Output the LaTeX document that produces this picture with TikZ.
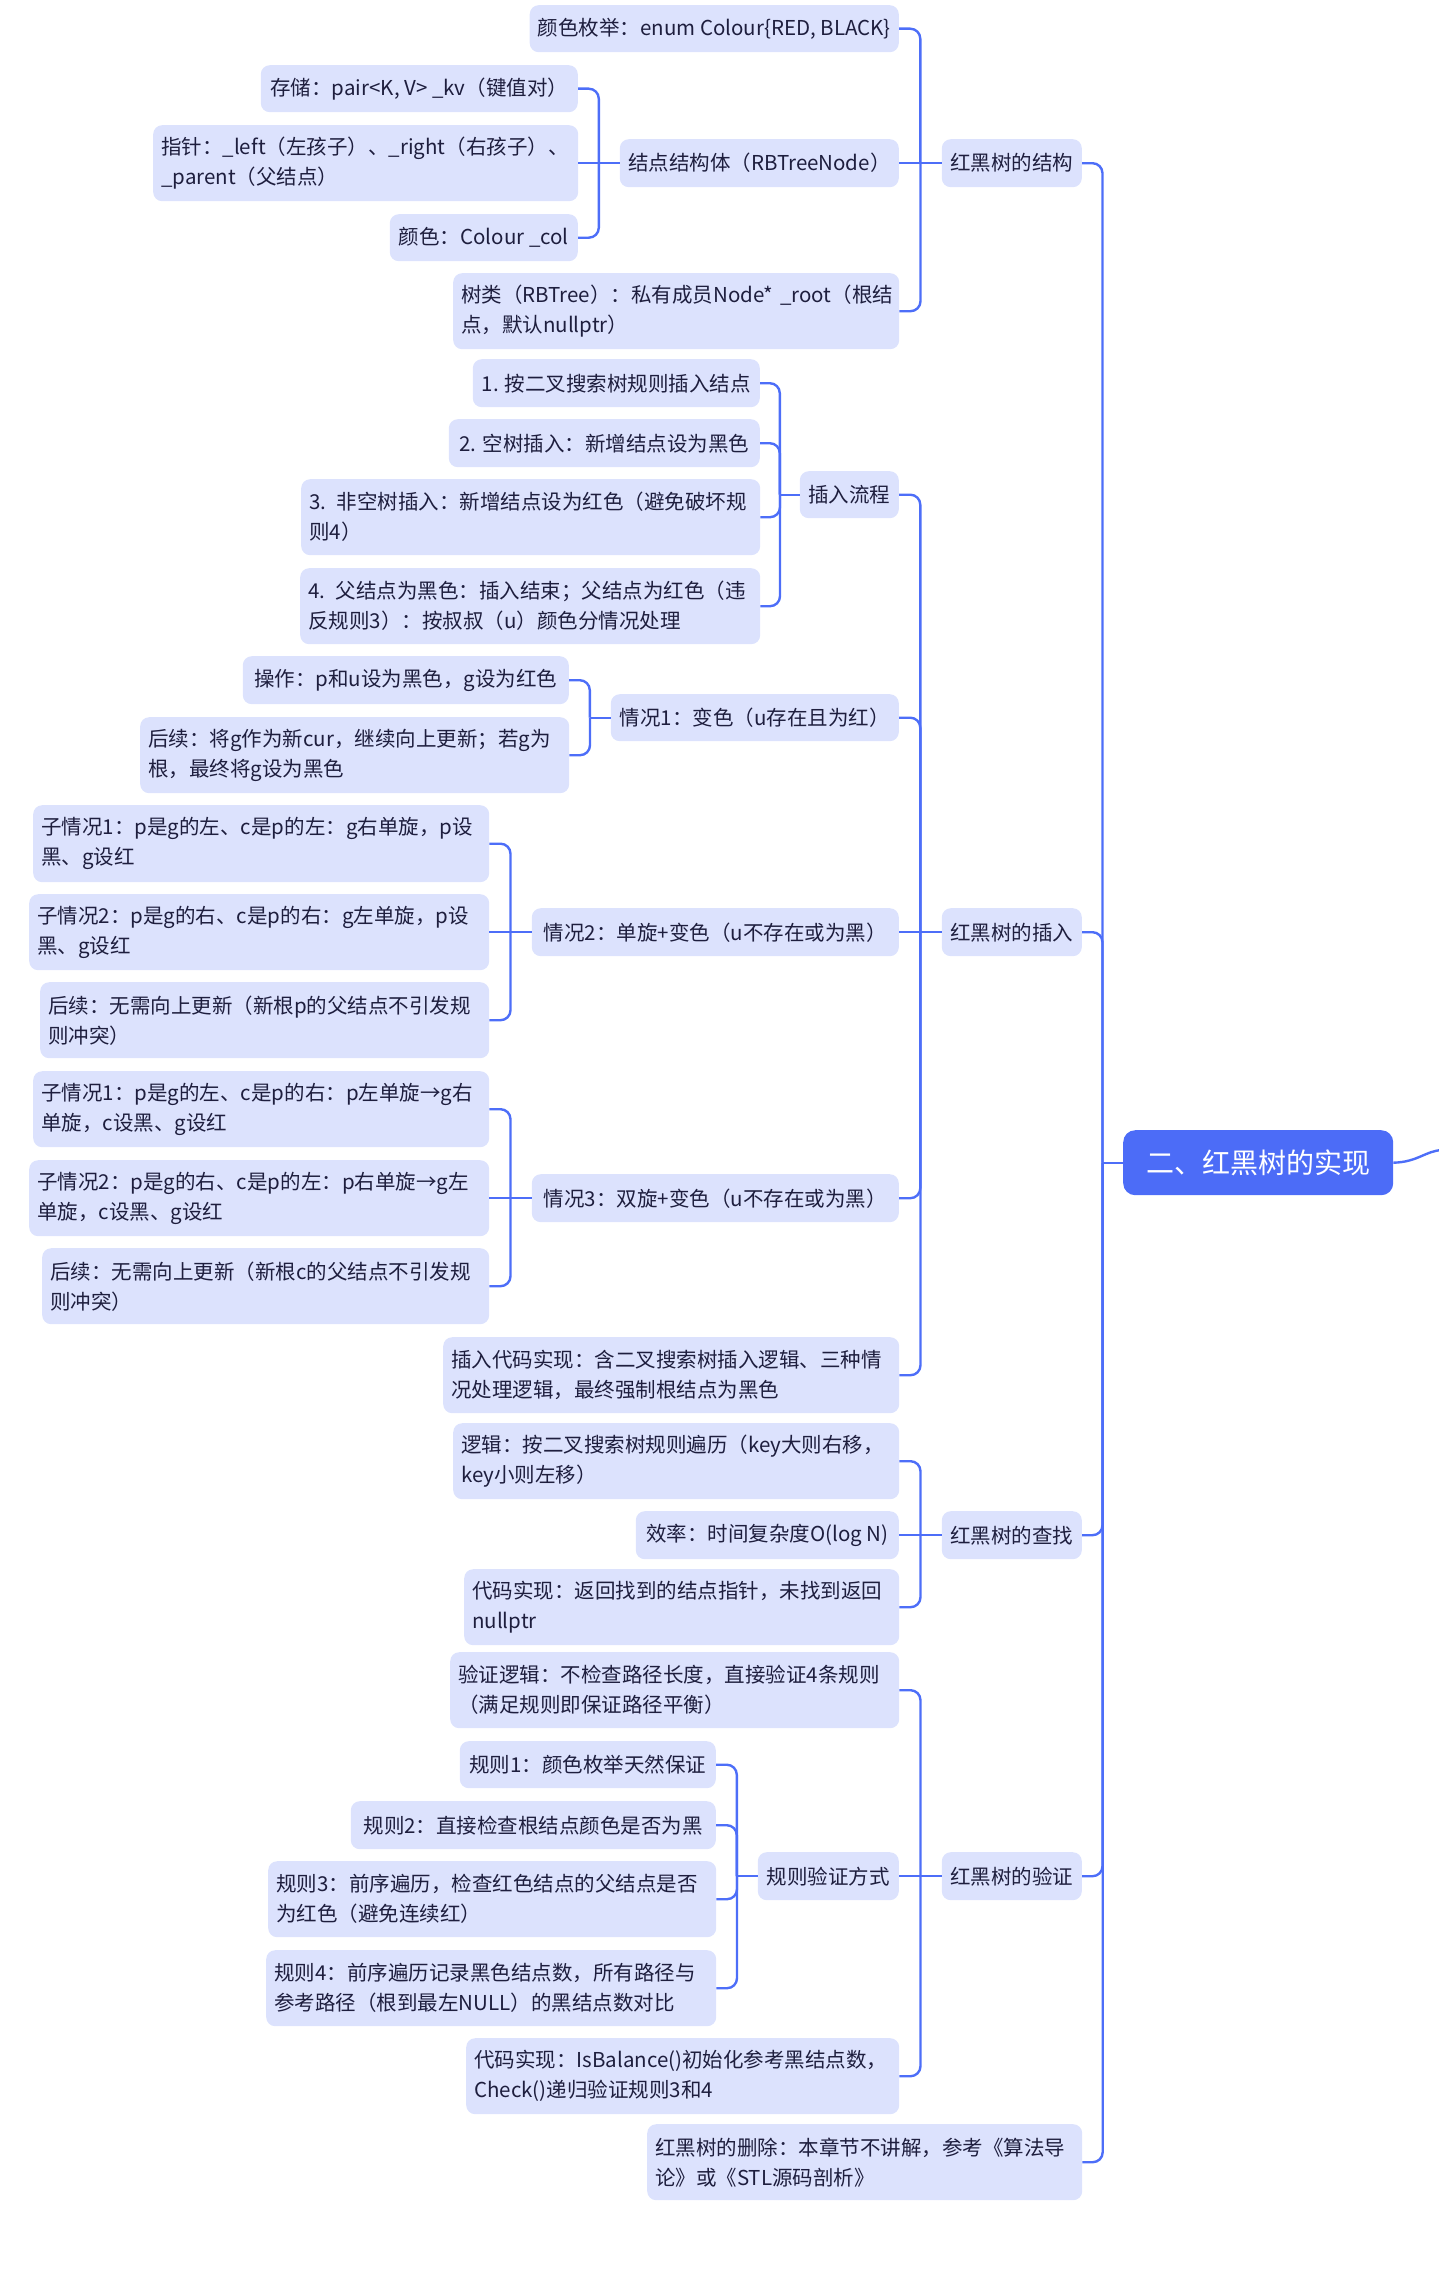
\documentclass[tikz,border=0pt]{standalone}
\usepackage{fontspec}
\setmainfont{Noto Sans CJK SC}
\usetikzlibrary{calc}
\definecolor{boxfill}{RGB}{220,226,253}
\definecolor{linec}{RGB}{77,110,248}
\definecolor{rootfill}{RGB}{76,108,247}
\definecolor{txt}{RGB}{30,30,62}
\tikzset{
  box/.style={fill=boxfill, rounded corners=9pt, text=txt, font=\fontsize{20.5}{30}\selectfont,
    inner xsep=8pt, inner ysep=0pt, align=left},
  rootbox/.style={fill=rootfill, rounded corners=12pt, text=white, font=\fontsize{28}{34}\selectfont,
    inner sep=0pt, anchor=north west, align=center},
  link/.style={draw=linec, line width=2.4pt},
}
\newcommand\bx[6]{%
  \pgfmathsetmacro\bxw{#4-#2}\pgfmathsetmacro\bxh{#5-#3}%
  \node[box, anchor=north east, minimum width=\bxw pt, minimum height=\bxh pt] (#1) at (#4,#3) {#6};}
\newcommand\bxx[6]{%
  \pgfmathsetmacro\bxw{#4-#2-16}\pgfmathsetmacro\bxh{#5-#3}%
  \node[box, anchor=north west, text width=\bxw pt, minimum height=\bxh pt] (#1) at (#2,#3) {#6};}
\newcommand\conn[2]{%
  \path ($(#1.east)!0.5!(#1.east -| #2.west)$) coordinate (busm);
  \draw[link, rounded corners=10pt] (#1.east) -| (busm |- #2.west);
  \draw[link] (busm |- #2.west) -- (#2.west);}
\newcommand\connS[2]{\draw[link] (#1.east) -- (#2.west);}
\begin{document}
\begin{tikzpicture}[x=1pt,y=-1pt]
\useasboundingbox (0,0) rectangle (1438,2296);
% root
\node[rootbox, minimum width=270pt, minimum height=65pt] (root) at (1123,1130) {二、红黑树的实现};
\coordinate (rootout) at (1442,1150);
\draw[link] (root.east) .. controls (1418,1162) and (1425,1151) .. (rootout);
% level 1
\bx{L1a}{942}{139}{1082}{187}{红黑树的结构}
\bx{L1b}{942}{908}{1082}{956}{红黑树的插入}
\bx{L1c}{942}{1511}{1082}{1559}{红黑树的查找}
\bx{L1d}{942}{1852}{1082}{1900}{红黑树的验证}
\bxx{L1e}{647}{2124}{1082}{2200}{红黑树的删除：本章节不讲解，参考《算法导\\论》或《STL源码剖析》}
% structure
\bx{s1}{532}{5}{899}{52}{颜色枚举：enum Colour\{RED, BLACK\}}
\bx{s2}{620}{139}{899}{187}{结点结构体（RBTreeNode）}
\bxx{s3}{453}{273}{899}{349}{树类（RBTree）：私有成员Node*~\_root（根结\\点，默认nullptr）}
\bx{n1}{261}{65}{578}{112}{存储：pair<K, V> \_kv（键值对）}
\bxx{n2}{153}{125}{578}{201}{指针：\_left（左孩子）、\_right（右孩子）、\\\_parent（父结点）}
\bx{n3}{390}{214}{578}{261}{颜色：Colour \_col}
% insert
\bx{i1}{800}{471}{899}{518}{插入流程}
\bx{i2}{611}{694}{899}{741}{情况1：变色（u存在且为红）}
\bx{i3}{532}{908}{899}{956}{情况2：单旋+变色（u不存在或为黑）}
\bx{i4}{532}{1174}{899}{1222}{情况3：双旋+变色（u不存在或为黑）}
\bxx{i5}{443}{1337}{899}{1413}{插入代码实现：含二叉搜索树插入逻辑、三种情\\况处理逻辑，最终强制根结点为黑色}
\bx{f1}{473}{359}{760}{407}{1. 按二叉搜索树规则插入结点}
\bx{f2}{449}{419}{760}{467}{2. 空树插入：新增结点设为黑色}
\bxx{f3}{301}{479}{760}{555}{3. 非空树插入：新增结点设为红色（避免破坏规\\则4）}
\bxx{f4}{300}{568}{760}{644}{4. 父结点为黑色：插入结束；父结点为红色（违\\反规则3）：按叔叔（u）颜色分情况处理}
\bx{c1a}{243}{656}{569}{704}{操作：p和u设为黑色，g设为红色}
\bxx{c1b}{140}{717}{569}{793}{后续：将g作为新cur，继续向上更新；若g为\\根，最终将g设为黑色}
\bxx{c2a}{33}{805}{489}{882}{子情况1：p是g的左、c是p的左：g右单旋，p设\\黑、g设红}
\bxx{c2b}{29}{894}{489}{970}{子情况2：p是g的右、c是p的右：g左单旋，p设\\黑、g设红}
\bxx{c2c}{40}{982}{489}{1058}{后续：无需向上更新（新根p的父结点不引发规\\则冲突）}
\bxx{c3a}{33}{1071}{489}{1147}{子情况1：p是g的左、c是p的右：p左单旋→g右\\单旋，c设黑、g设红}
\bxx{c3b}{29}{1160}{489}{1236}{子情况2：p是g的右、c是p的左：p右单旋→g左\\单旋，c设黑、g设红}
\bxx{c3c}{42}{1248}{489}{1324}{后续：无需向上更新（新根c的父结点不引发规\\则冲突）}
% search
\bxx{q1}{453}{1423}{899}{1499}{逻辑：按二叉搜索树规则遍历（key大则右移，\\key小则左移）}
\bx{q2}{636}{1511}{899}{1559}{效率：时间复杂度O(log N)}
\bxx{q3}{464}{1569}{899}{1645}{代码实现：返回找到的结点指针，未找到返回\\nullptr}
% verify
\bxx{v1}{450}{1652}{899}{1728}{验证逻辑：不检查路径长度，直接验证4条规则\\（满足规则即保证路径平衡）}
\bx{v2}{758}{1852}{899}{1900}{规则验证方式}
\bxx{v3}{466}{2038}{899}{2114}{代码实现：IsBalance()初始化参考黑结点数，\\Check()递归验证规则3和4}
\bx{r1}{460}{1741}{716}{1788}{规则1：颜色枚举天然保证}
\bx{r2}{351}{1801}{716}{1849}{规则2：直接检查根结点颜色是否为黑}
\bxx{r3}{268}{1861}{716}{1937}{规则3：前序遍历，检查红色结点的父结点是否\\为红色（避免连续红）}
\bxx{r4}{266}{1950}{716}{2026}{规则4：前序遍历记录黑色结点数，所有路径与\\参考路径（根到最左NULL）的黑结点数对比}
% connectors
\conn{L1a}{root}\conn{L1b}{root}\conn{L1c}{root}\conn{L1d}{root}\conn{L1e}{root}
\conn{s1}{L1a}\connS{s2}{L1a}\conn{s3}{L1a}
\conn{n1}{s2}\connS{n2}{s2}\conn{n3}{s2}
\conn{i1}{L1b}\conn{i2}{L1b}\connS{i3}{L1b}\conn{i4}{L1b}\conn{i5}{L1b}
\conn{f1}{i1}\conn{f2}{i1}\conn{f3}{i1}\conn{f4}{i1}
\conn{c1a}{i2}\conn{c1b}{i2}
\conn{c2a}{i3}\connS{c2b}{i3}\conn{c2c}{i3}
\conn{c3a}{i4}\connS{c3b}{i4}\conn{c3c}{i4}
\conn{q1}{L1c}\connS{q2}{L1c}\conn{q3}{L1c}
\conn{v1}{L1d}\connS{v2}{L1d}\conn{v3}{L1d}
\conn{r1}{v2}\conn{r2}{v2}\conn{r3}{v2}\conn{r4}{v2}
\end{tikzpicture}
\end{document}
